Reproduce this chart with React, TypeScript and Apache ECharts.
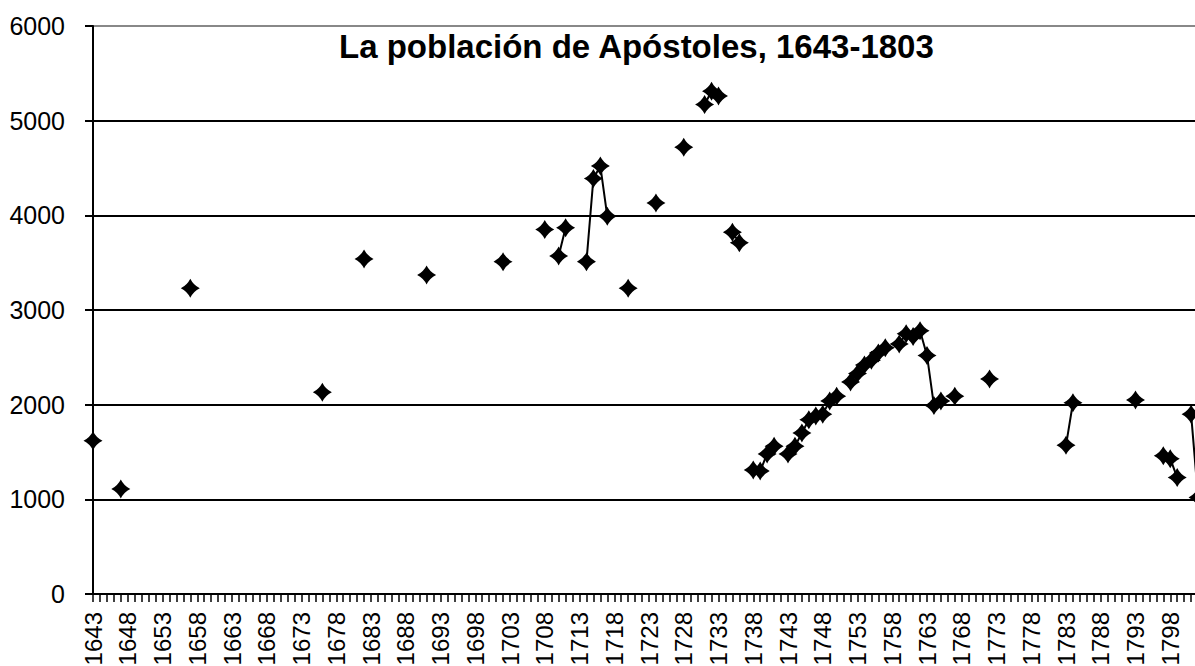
import React, { useEffect, useRef } from "react";
import * as echarts from "echarts";

// Categories: every year from 1643 to 1803
const firstYear = 1643;
const lastYear = 1803;
const years: string[] = [];
for (let y = firstYear; y <= lastYear; y++) years.push(String(y));

const obsYears = [
  1643, 1647, 1657, 1676, 1682, 1691, 1702, 1708, 1710, 1711,
  1714, 1715, 1716, 1717, 1720, 1724, 1728, 1731, 1732, 1733,
  1735, 1736, 1738, 1739, 1740, 1741, 1743, 1744, 1745, 1746,
  1747, 1748, 1749, 1750, 1752, 1753, 1754, 1755, 1756, 1757,
  1759, 1760, 1761, 1762, 1763, 1764, 1765, 1767, 1772, 1783,
  1784, 1793, 1797, 1798, 1799, 1801, 1802,
];
const obsValues = [
  1620, 1110, 3230, 2130, 3540, 3370, 3510, 3850, 3570, 3870,
  3510, 4390, 4520, 3990, 3230, 4130, 4720, 5170, 5310, 5260,
  3820, 3710, 1310, 1300, 1480, 1560, 1480, 1560, 1700, 1840,
  1880, 1900, 2040, 2090, 2240, 2330, 2420, 2470, 2545, 2600,
  2640, 2750, 2720, 2780, 2520, 1990, 2040, 2090, 2270, 1570,
  2020, 2050, 1460, 1430, 1230, 1900, 1020,
];

const yTicks = [0, 1000, 2000, 3000, 4000, 5000, 6000];

const titleText = "La población de Apóstoles, 1643-1803";

const FONT = "'Liberation Sans', Arial, sans-serif";
const MARKER =
  "path://M0,-10 Q3.3,-3.3 10,0 Q3.3,3.3 0,10 Q-3.3,3.3 -10,0 Q-3.3,-3.3 0,-10 Z";

export default function App() {
  const ref = useRef<HTMLDivElement>(null);

  useEffect(() => {
    if (!ref.current) return;
    const chart = echarts.init(ref.current, undefined, { renderer: "svg" });

    const seriesData: (number | null)[] = years.map((y) => {
      const i = obsYears.indexOf(Number(y));
      return i >= 0 ? obsValues[i] : null;
    });

    chart.setOption({
      animation: false,
      backgroundColor: "#ffffff",
      title: {
        text: titleText,
        left: 339,
        top: 30,
        padding: 0,
        textStyle: {
          fontFamily: FONT,
          fontSize: 33,
          fontWeight: "bold",
          color: "#000",
        },
      },
      grid: {
        left: 93,
        right: 55,
        top: 26,
        bottom: 72,
        containLabel: false,
        outerBoundsMode: "none",
      },
      xAxis: {
        type: "category",
        data: years,
        boundaryGap: false,
        axisLine: { show: true, lineStyle: { color: "#000", width: 2 } },
        axisTick: {
          show: true,
          interval: 0,
          length: 8,
          lineStyle: { color: "#000", width: 1.5 },
        },
        axisLabel: {
          interval: (index: number, value: string) =>
            index % 5 === 0 && Number(value) < lastYear,
          rotate: 90,
          margin: 18,
          fontFamily: FONT,
          fontSize: 24,
          color: "#000",
        },
        splitLine: { show: false },
      },
      yAxis: {
        type: "value",
        min: 0,
        max: 6000,
        interval: 1000,
        axisLine: { show: true, lineStyle: { color: "#000", width: 2 } },
        axisTick: { show: true, length: 8, lineStyle: { color: "#000", width: 2 } },
        axisLabel: {
          margin: 28,
          fontFamily: FONT,
          fontSize: 25,
          color: "#000",
          formatter: (v: number) => (yTicks.includes(v) ? String(v) : ""),
        },
        splitLine: {
          show: true,
          lineStyle: {
            color: ["#000", "#000", "#000", "#000", "#000", "#000", "#888"],
            width: 2,
          },
        },
      },
      series: [
        {
          type: "line",
          data: seriesData,
          connectNulls: false,
          showSymbol: true,
          showAllSymbol: true,
          symbol: MARKER,
          symbolSize: 19,
          lineStyle: { color: "#000", width: 2 },
          itemStyle: { color: "#000" },
          emphasis: { disabled: true },
        },
      ],
    });

    return () => chart.dispose();
  }, []);

  return (
    <div
      style={{
        position: "absolute",
        left: 0,
        top: 0,
        width: 1195,
        height: 666,
        overflow: "hidden",
        background: "#fff",
      }}
    >
      <div ref={ref} style={{ width: 1260, height: 666 }} />
    </div>
  );
}
